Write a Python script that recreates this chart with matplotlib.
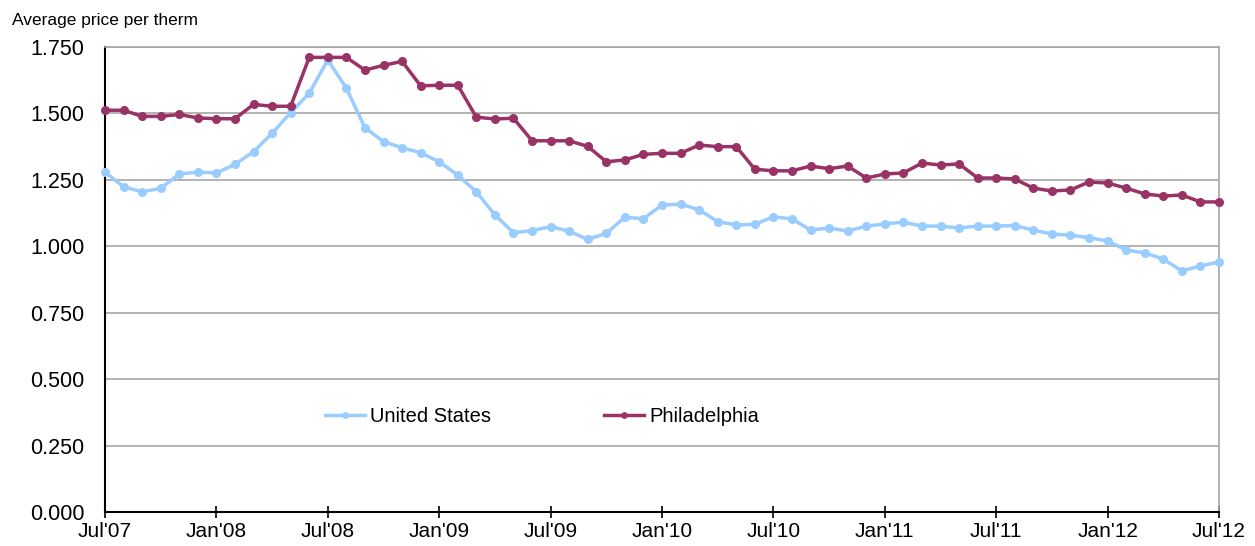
import matplotlib.pyplot as plt
from matplotlib.ticker import FormatStrFormatter

# monthly values, Jul'07 .. Jul'12
us_price = [1.279, 1.224, 1.205, 1.218, 1.272, 1.279, 1.276, 1.308, 1.356, 1.425,
            1.503, 1.576, 1.701, 1.595, 1.446, 1.394, 1.371, 1.352, 1.318, 1.268,
            1.205, 1.118, 1.051, 1.059, 1.074, 1.057, 1.026, 1.049, 1.109, 1.104,
            1.155, 1.159, 1.137, 1.093, 1.080, 1.083, 1.111, 1.103, 1.061, 1.069,
            1.057, 1.076, 1.084, 1.091, 1.076, 1.076, 1.069, 1.076, 1.076, 1.078,
            1.061, 1.046, 1.042, 1.032, 1.020, 0.986, 0.975, 0.952, 0.907, 0.926,
            0.941]
phl_price = [1.512, 1.512, 1.489, 1.489, 1.496, 1.483, 1.480, 1.480, 1.534, 1.527,
             1.527, 1.711, 1.711, 1.711, 1.663, 1.681, 1.696, 1.604, 1.606, 1.606,
             1.486, 1.479, 1.482, 1.397, 1.397, 1.397, 1.376, 1.318, 1.325, 1.346,
             1.350, 1.350, 1.381, 1.375, 1.375, 1.290, 1.284, 1.284, 1.302, 1.292,
             1.302, 1.257, 1.272, 1.276, 1.313, 1.306, 1.310, 1.257, 1.257, 1.253,
             1.219, 1.208, 1.212, 1.242, 1.238, 1.219, 1.197, 1.189, 1.193, 1.167,
             1.167]
tick_labels = ["Jul'07", "Jan'08", "Jul'08", "Jan'09", "Jul'09", "Jan'10",
               "Jul'10", "Jan'11", "Jul'11", "Jan'12", "Jul'12"]
y_ticks = [0.0, 0.25, 0.5, 0.75, 1.0, 1.25, 1.5, 1.75]

plt.rcParams['font.family'] = ['Liberation Sans', 'DejaVu Sans']

fig = plt.figure(figsize=(12.55, 5.46), dpi=100)
ax = fig.add_axes([105 / 1255, 34 / 546, 1114 / 1255, 465 / 546])

months = list(range(len(us_price)))
ax.plot(months, us_price, color='#99CCFF', lw=2.5, marker='o', ms=5.5,
        label='United States', zorder=3, clip_on=False)
ax.plot(months, phl_price, color='#993366', lw=2.5, marker='o', ms=5.5,
        label='Philadelphia', zorder=3, clip_on=False)

ax.set_xlim(0, len(us_price) - 1)
ax.set_ylim(0, 1.75)
ax.set_yticks(y_ticks)
ax.yaxis.set_major_formatter(FormatStrFormatter('%.3f'))
ax.set_xticks(months[::6])
ax.set_xticklabels(tick_labels)

ax.grid(axis='y', color='#A6A6A6', lw=1.2, zorder=0)
ax.tick_params(axis='y', length=0, labelsize=15.5, pad=15)
ax.tick_params(axis='x', direction='inout', length=9, width=1.2,
               labelsize=15, pad=3)

for side in ['top', 'right']:
    ax.spines[side].set_color('#A6A6A6')
    ax.spines[side].set_linewidth(1.2)
for side in ['left', 'bottom']:
    ax.spines[side].set_color('black')
    ax.spines[side].set_linewidth(1.5)

ax.legend(loc='center', bbox_to_anchor=(0.392, 0.206), ncol=2, frameon=False,
          fontsize=14.5, handlelength=2.0, handletextpad=0.25,
          columnspacing=5.6, markerscale=0.7)

fig.text(12 / 1255, 1 - 20 / 546, 'Average price per therm', fontsize=12.5,
         va='center', ha='left')

fig.savefig('out.png', dpi=100)
